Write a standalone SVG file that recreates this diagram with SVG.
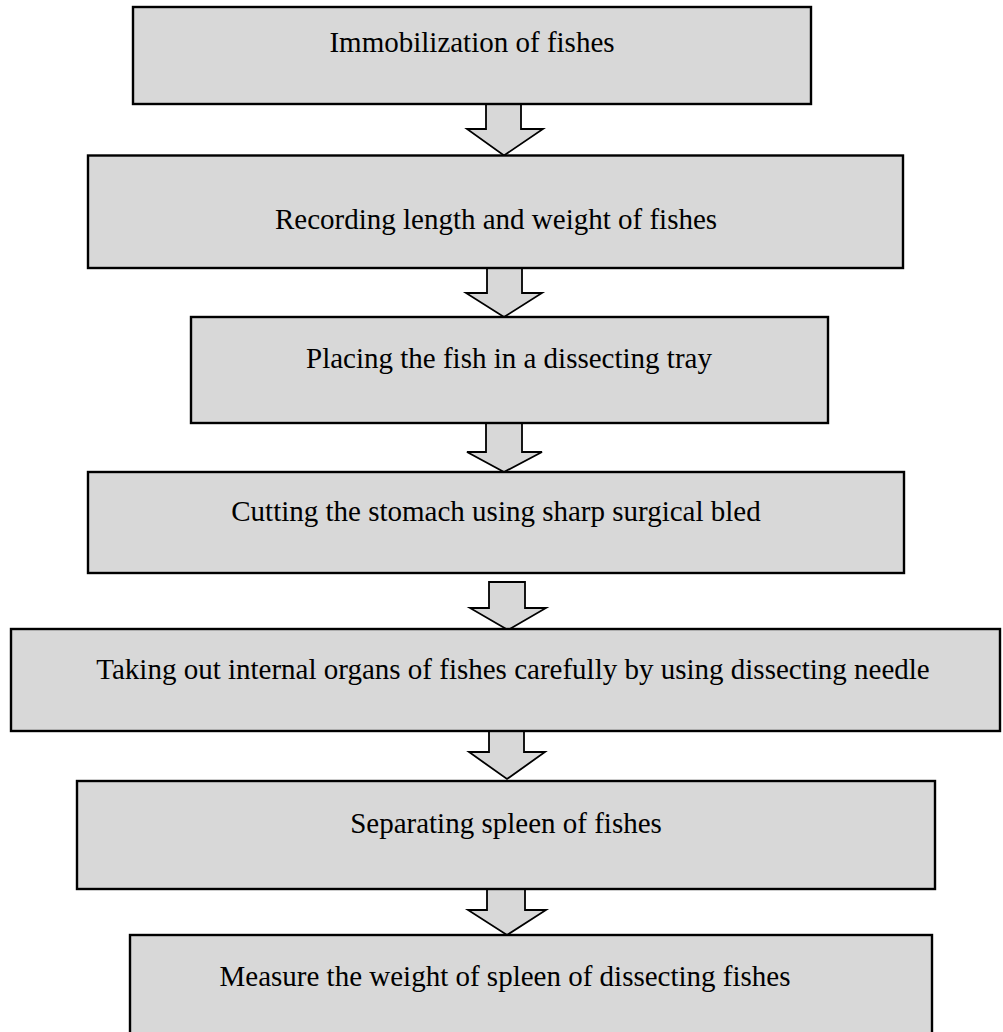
<svg xmlns="http://www.w3.org/2000/svg" width="1003" height="1032" viewBox="0 0 1003 1032">
<style>
.box{fill:#d8d8d8;stroke:#000;stroke-width:2.4}
.arr{fill:#d8d8d8;stroke:#000;stroke-width:1.8;stroke-linejoin:miter}
.t{font-family:"Liberation Serif","Times New Roman",serif;font-size:29px;fill:#000;text-anchor:middle}
</style>
<rect width="1003" height="1032" fill="#fff"/>
<g id="connectors">
<path class="arr" d="M486,104 H521 V129 H543 L504,155.5 L467,129 H486 Z"/>
<path class="arr" d="M487,268 H522 V293 H542 L504,317 L466,293 H487 Z"/>
<path class="arr" d="M486,423 H522 V452 H542 L504,472 L467,452 H486 Z"/>
<path class="arr" d="M489,582 H525 V608 H546 L508,630 L470,608 H489 Z"/>
<path class="arr" d="M489,731 H524 V752 H545 L507,779 L469,752 H489 Z"/>
<path class="arr" d="M487,889 H525 V910 H546 L507,935 L468,910 H487 Z"/>
</g>
<g id="n1"><rect class="box" x="133" y="7" width="678" height="97"/><text class="t" x="472" y="52">Immobilization of fishes</text></g>
<g id="n2"><rect class="box" x="88" y="155.5" width="815" height="112.5"/><text class="t" x="496" y="229">Recording length and weight of fishes</text></g>
<g id="n3"><rect class="box" x="191" y="317" width="637" height="106"/><text class="t" x="509" y="368">Placing the fish in a dissecting tray</text></g>
<g id="n4"><rect class="box" x="88" y="472" width="816" height="101"/><text class="t" x="496" y="521">Cutting the stomach using sharp surgical bled</text></g>
<g id="n5"><rect class="box" x="11" y="629" width="989" height="102"/><text class="t" x="513" y="679">Taking out internal organs of fishes carefully by using dissecting needle</text></g>
<g id="n6"><rect class="box" x="77" y="781" width="858" height="108"/><text class="t" x="506" y="833">Separating spleen of fishes</text></g>
<g id="n7"><rect class="box" x="130" y="935" width="802" height="110"/><text class="t" x="505" y="986">Measure the weight of spleen of dissecting fishes</text></g>
</svg>
